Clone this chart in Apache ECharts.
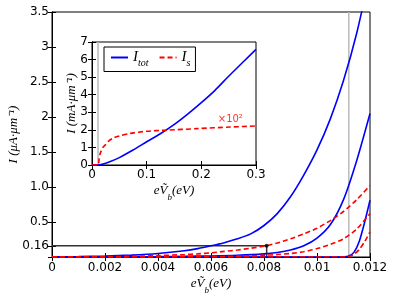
<!DOCTYPE html>
<html><head><meta charset="utf-8">
<script src="https://cdn.jsdelivr.net/npm/echarts@6/dist/echarts.min.js"></script>
<style>html,body{margin:0;padding:0;background:#fff}#c{width:394px;height:297px}</style>
</head><body><div id="c"></div>
<script>
// ---- main plot data ----
const mainTicksY = [0, 0.16, 0.5, 1, 1.5, 2, 2.5, 3, 3.5];
const mainTickLabelsY = ['0', '0.16', '0.5', '1.0', '1.5', '2', '2.5', '3', '3.5'];
const mainXMax = 0.012, mainXStep = 0.002, mainYMax = 3.5;

const tot1X = [0, 0.001, 0.002, 0.003, 0.004, 0.005, 0.0055, 0.006, 0.0065, 0.007, 0.0075, 0.008, 0.0085, 0.009, 0.0095, 0.01, 0.0105, 0.011, 0.0115, 0.012];
const tot1Y = [0, 0.005, 0.013, 0.027, 0.05, 0.09, 0.12, 0.16, 0.205, 0.26, 0.33, 0.45, 0.62, 0.86, 1.17, 1.53, 1.97, 2.52, 3.2, 4.05];
const tot2X = [0, 0.004, 0.005, 0.006, 0.007, 0.008, 0.0085, 0.009, 0.0095, 0.01, 0.0105, 0.011, 0.0115, 0.012];
const tot2Y = [0, 0.005, 0.01, 0.015, 0.025, 0.045, 0.065, 0.1, 0.16, 0.27, 0.46, 0.82, 1.38, 2.05];
const tot3X = [0, 0.0106, 0.0108, 0.011, 0.0112, 0.0114, 0.0116, 0.0118, 0.012];
const tot3Y = [0, 0, 0, 0.002, 0.014, 0.07, 0.23, 0.5, 0.81];
const s1X = [0, 0.001, 0.002, 0.003, 0.004, 0.005, 0.0055, 0.006, 0.0065, 0.007, 0.0075, 0.008, 0.0085, 0.009, 0.0095, 0.01, 0.0105, 0.011, 0.0115, 0.012];
const s1Y = [0, 0.002, 0.005, 0.01, 0.02, 0.035, 0.045, 0.06, 0.08, 0.1, 0.125, 0.155, 0.2, 0.26, 0.33, 0.41, 0.52, 0.65, 0.82, 1.02];
const s2X = [0, 0.005, 0.006, 0.007, 0.008, 0.0085, 0.009, 0.0095, 0.01, 0.0105, 0.011, 0.0115, 0.012];
const s2Y = [0, 0.002, 0.005, 0.012, 0.025, 0.035, 0.05, 0.075, 0.12, 0.18, 0.26, 0.4, 0.62];
const s3X = [0, 0.0106, 0.0108, 0.011, 0.0112, 0.0114, 0.0116, 0.0118, 0.012];
const s3Y = [0, 0, 0, 0.001, 0.006, 0.04, 0.11, 0.22, 0.36];

const thresholdX = 0.0112;          // grey vertical line
const markerX = 0.0081, markerY = 0.16;

// ---- inset data ----
const insetXMax = 0.3, insetXStep = 0.1, insetYMax = 7, insetYStep = 1;
const insetTotX = [0, 0.011, 0.02, 0.03, 0.05, 0.075, 0.1, 0.125, 0.15, 0.175, 0.2, 0.225, 0.25, 0.275, 0.3];
const insetTotY = [0, 0, 0.05, 0.15, 0.42, 0.85, 1.32, 1.78, 2.3, 2.9, 3.55, 4.25, 5.05, 5.82, 6.58];
const insetSX = [0, 0.011, 0.013, 0.015, 0.02, 0.024, 0.03, 0.04, 0.05, 0.07, 0.1, 0.135, 0.192, 0.253, 0.3];
const insetSY = [0, 0, 0.35, 0.66, 1.0, 1.13, 1.35, 1.55, 1.65, 1.8, 1.92, 1.98, 2.07, 2.16, 2.22];
const insetThresholdX = 0.011;
const annotX = 0.253, annotY = 2.6, annotText = '×10²';

const zip = (xs, ys) => xs.map((x, i) => [x, ys[i]]);
const BLUE = '#0000ff', RED = '#ff0000';
const serif = 'Liberation Serif';
const mathRich = {
  m: { fontFamily: serif, fontStyle: 'italic', fontSize: 13, color: '#000', verticalAlign: 'middle', lineHeight: 16 },
  sub: { fontFamily: serif, fontStyle: 'italic', fontSize: 9, color: '#000', verticalAlign: 'bottom', lineHeight: 22 }
};
const tickFont = { fontFamily: 'DejaVu Sans', fontSize: 12, color: '#000' };
const axisLine = { show: true, lineStyle: { color: '#000', width: 1 } };
const tick = { show: true, inside: true, length: 4, lineStyle: { color: '#000', width: 1 } };

const lineSeries = (name, xs, ys, color, dashed, xi, yi, w, z) => ({
  name, type: 'line', xAxisIndex: xi, yAxisIndex: yi, data: zip(xs, ys),
  showSymbol: false, symbol: 'none', smooth: 0.25,
  lineStyle: { color, width: w || 1.6, type: dashed ? [5, 3] : 'solid' },
  itemStyle: { color }, silent: true, z: z || 3
});

const chart = echarts.init(document.getElementById('c'), null, { renderer: 'canvas' });
chart.setOption({
  animation: false,
  backgroundColor: '#fff',
  grid: [
    { left: 52, top: 12, width: 318, height: 245, show: true, borderColor: '#000', borderWidth: 1, backgroundColor: '#fff', outerBoundsMode: 'none', containLabel: false },
    { left: 92, top: 42, width: 164, height: 123, show: true, borderColor: '#000', borderWidth: 1, backgroundColor: '#fff', outerBoundsMode: 'none', containLabel: false, z: 5 }
  ],
  legend: {
    left: 104, top: 47, orient: 'horizontal',
    data: ['Itot', 'Is'],
    backgroundColor: '#fff', borderColor: '#000', borderWidth: 1, borderRadius: 0,
    padding: [3, 5, 3, 6], itemGap: 10, itemWidth: 17, itemHeight: 10, z: 10,
    itemStyle: { opacity: 0 },
    formatter: n => n === 'Itot' ? '{i|I}{s|tot}' : '{i|I}{s|s}',
    textStyle: {
      rich: {
        i: { fontFamily: serif, fontStyle: 'italic', fontSize: 15, color: '#000', verticalAlign: 'middle', lineHeight: 16 },
        s: { fontFamily: serif, fontStyle: 'italic', fontSize: 10, color: '#000', verticalAlign: 'bottom', lineHeight: 22 }
      }
    }
  },
  xAxis: [
    { gridIndex: 0, type: 'value', min: 0, max: mainXMax, interval: mainXStep, position: 'bottom',
      axisLine, axisTick: tick, splitLine: { show: false },
      axisLabel: Object.assign({ margin: 5, formatter: v => String(+v.toFixed(4)) }, tickFont),
      name: '{m|eṼ}{sub|b}{m|(eV)}', nameLocation: 'middle', nameGap: 16, nameMoveOverlap: false, nameTextStyle: { rich: mathRich } },
    { gridIndex: 0, type: 'value', min: 0, max: mainXMax, interval: mainXStep, position: 'top',
      axisLine, axisTick: tick, splitLine: { show: false }, axisLabel: { show: false } },
    { gridIndex: 1, type: 'value', min: 0, max: insetXMax, interval: insetXStep, position: 'bottom', z: 6,
      axisLine, axisTick: tick, splitLine: { show: false },
      axisLabel: Object.assign({ margin: 4, formatter: v => String(+v.toFixed(2)) }, tickFont),
      name: '{m|eṼ}{sub|b}{m|(eV)}', nameLocation: 'middle', nameGap: 15, nameMoveOverlap: false, nameTextStyle: { rich: mathRich } },
    { gridIndex: 1, type: 'value', min: 0, max: insetXMax, interval: insetXStep, position: 'top', z: 6,
      axisLine, axisTick: tick, splitLine: { show: false }, axisLabel: { show: false } }
  ],
  yAxis: [
    { gridIndex: 0, type: 'value', min: 0, max: mainYMax, position: 'left',
      axisLine, axisTick: Object.assign({ customValues: mainTicksY }, tick), splitLine: { show: false },
      axisLabel: Object.assign({ margin: 3, customValues: mainTicksY, formatter: v => mainTickLabelsY[mainTicksY.indexOf(+(+v).toFixed(2))] }, tickFont),
      name: '{m|I (μA·μm⁻¹)}', nameLocation: 'middle', nameGap: 30, nameMoveOverlap: false, nameTextStyle: { rich: mathRich } },
    { gridIndex: 0, type: 'value', min: 0, max: mainYMax, position: 'right',
      axisLine, axisTick: Object.assign({ customValues: mainTicksY }, tick), splitLine: { show: false },
      axisLabel: { show: false } },
    { gridIndex: 1, type: 'value', min: 0, max: insetYMax, interval: insetYStep, position: 'left', z: 6,
      axisLine, axisTick: tick, splitLine: { show: false },
      axisLabel: Object.assign({ margin: 4 }, tickFont),
      name: '{m|I (mA·μm⁻¹)}', nameLocation: 'middle', nameGap: 12, nameMoveOverlap: false, nameTextStyle: { rich: mathRich } },
    { gridIndex: 1, type: 'value', min: 0, max: insetYMax, interval: insetYStep, position: 'right', z: 6,
      axisLine, axisTick: tick, splitLine: { show: false }, axisLabel: { show: false } }
  ],
  series: [
    lineSeries('thr', [thresholdX, thresholdX], [0, mainYMax], '#bbbbbb', false, 0, 0, 1.5, 2),
    { type: 'line', xAxisIndex: 0, yAxisIndex: 0, data: [[0, markerY], [markerX, markerY], [markerX, 0]],
      symbol: 'none', lineStyle: { color: '#333', width: 1.5 }, silent: true, z: 2 },
    lineSeries('t1', tot1X, tot1Y, BLUE, false, 0, 0),
    lineSeries('t2', tot2X, tot2Y, BLUE, false, 0, 0),
    lineSeries('t3', tot3X, tot3Y, BLUE, false, 0, 0),
    lineSeries('r1', s1X, s1Y, RED, true, 0, 0),
    lineSeries('r2', s2X, s2Y, RED, true, 0, 0),
    lineSeries('r3', s3X, s3Y, RED, true, 0, 0),
    { type: 'scatter', xAxisIndex: 0, yAxisIndex: 0, data: [[markerX, markerY]], symbolSize: 4,
      itemStyle: { color: '#000' }, silent: true, z: 6 },
    lineSeries('ithr', [insetThresholdX, insetThresholdX], [0, insetYMax], '#bbbbbb', false, 2, 2, 1.5, 7),
    lineSeries('Itot', insetTotX, insetTotY, BLUE, false, 2, 2, 1.6, 8),
    lineSeries('Is', insetSX, insetSY, RED, true, 2, 2, 1.6, 8),
    { type: 'scatter', xAxisIndex: 2, yAxisIndex: 2, data: [[annotX, annotY]], symbolSize: 0, silent: true, z: 9,
      label: { show: true, position: 'inside', formatter: annotText, color: RED, fontFamily: 'DejaVu Sans', fontSize: 10 } }
  ]
});
</script></body></html>
